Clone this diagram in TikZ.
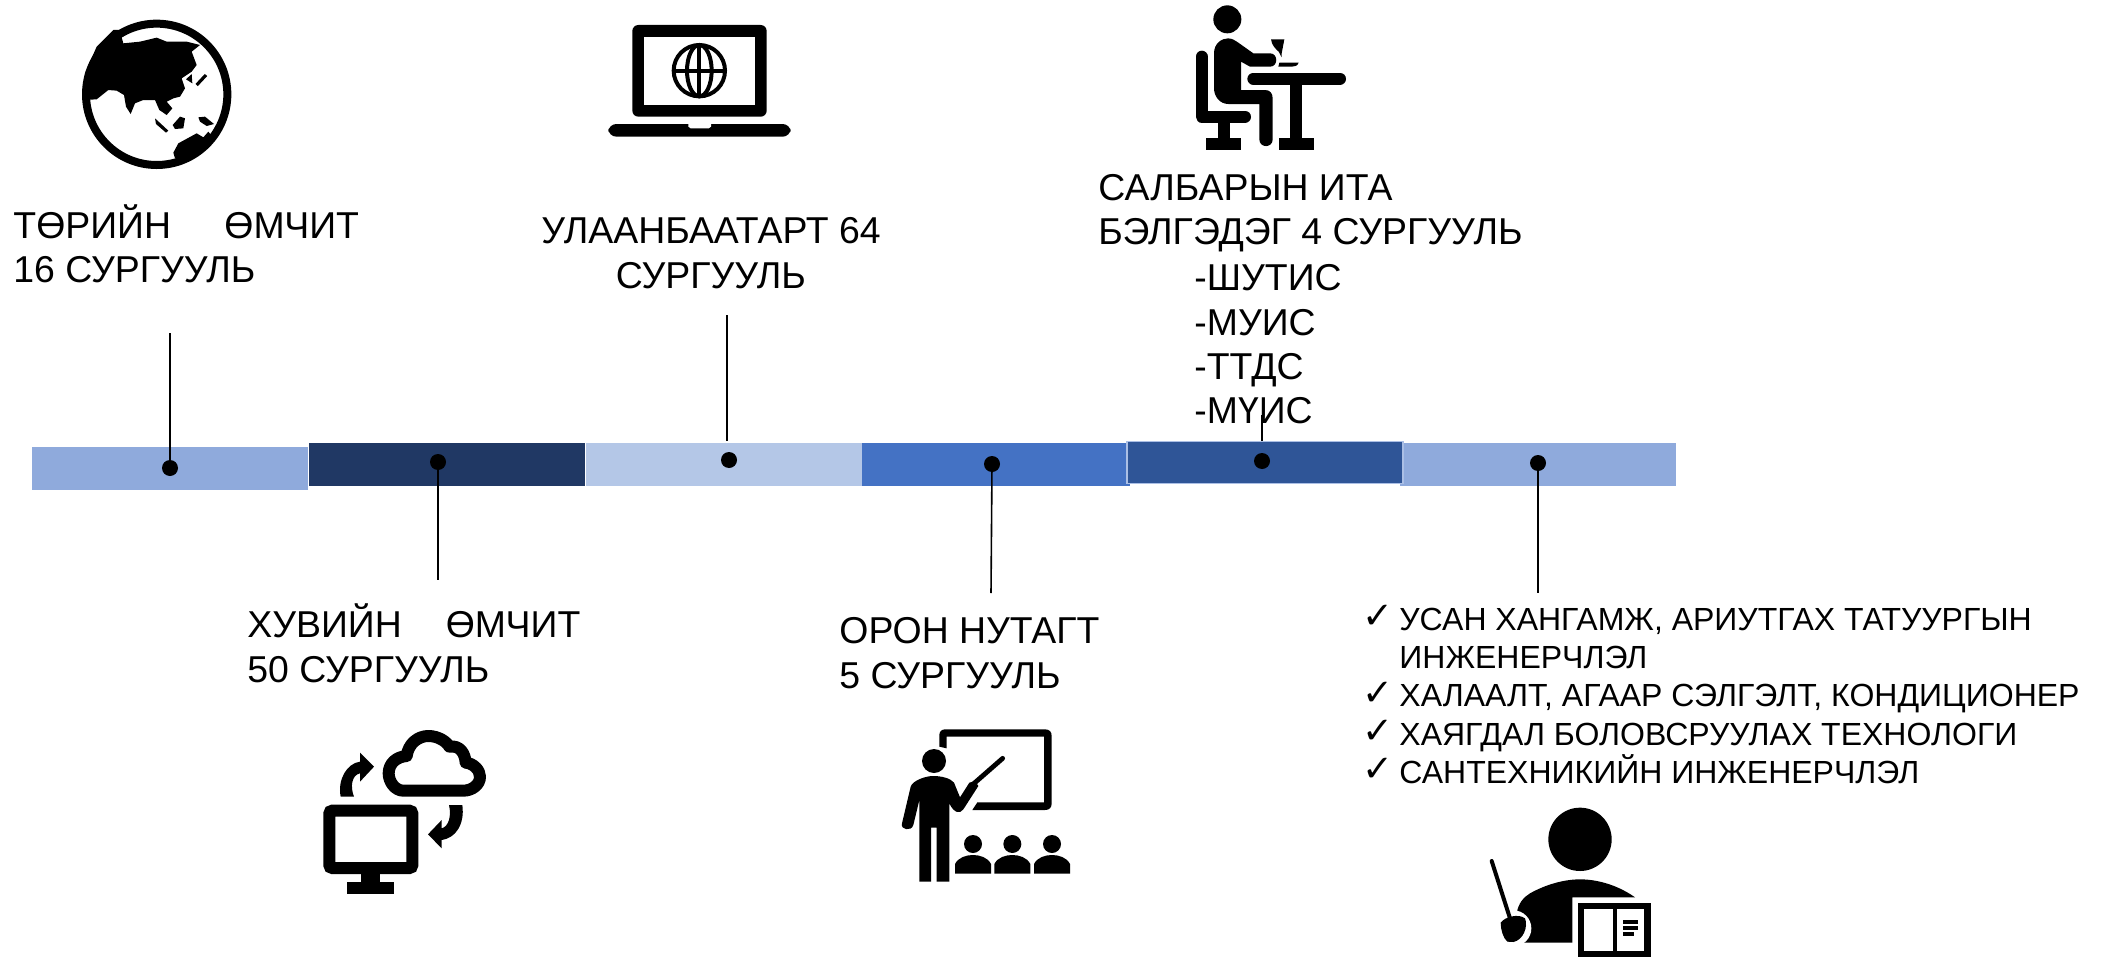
\documentclass[tikz,border=0pt]{standalone}
\usepackage{fontspec}
\setmainfont{Liberation Sans}
\newfontfamily\checkfont{DejaVu Sans}
\definecolor{barA}{HTML}{8FAADC}
\definecolor{barB}{HTML}{203864}
\definecolor{barC}{HTML}{B4C7E7}
\definecolor{barD}{HTML}{4472C4}
\definecolor{barE}{HTML}{2F5597}
\begin{document}
\begin{tikzpicture}[x=0.5pt,y=-0.5pt,
  barseg/.style={inner sep=0pt,outer sep=0pt,minimum width=138pt,minimum height=21.5pt},
  dotnode/.style={circle,fill=black,inner sep=0pt,minimum size=8pt},
  conn/.style={draw=black,line width=0.8pt},
  bigt/.style={anchor=base west,inner sep=0pt,font=\fontsize{18.7}{22}\selectfont},
  smallt/.style={anchor=base west,inner sep=0pt,font=\fontsize{16}{19}\selectfont},
  chk/.style={anchor=base west,inner sep=0pt,font=\checkfont\fontsize{18.5}{20}\selectfont},
  icon/.style={x=0.16667pt,y=-0.16667pt}]
\useasboundingbox (0,0) rectangle (2108,957);
% connector under the dark segment
\coordinate (e5) at (1262,415);
\coordinate (g5) at (1262,445);
\draw[conn] (e5) -- (g5);
% bar segments
\node[barseg,fill=barA] (s1) at (170,468.5) {};
\node[barseg,fill=barB] (s2) at (446.5,464) {};
\node[barseg,fill=barC] (s3) at (724,464.5) {};
\node[barseg,fill=barD,minimum width=134pt] (s4) at (996,464) {};
\node[barseg,fill=barA] (s6) at (1538,464.5) {};
\node[barseg,fill=barE,draw=barA!75!white,line width=0.7pt,minimum height=21pt] (s5) at (1265,462.5) {};
% dots
\node[dotnode] (d1) at (170,468) {};
\node[dotnode] (d2) at (438,462) {};
\node[dotnode] (d3) at (729,460) {};
\node[dotnode] (d4) at (992,464) {};
\node[dotnode] (d5) at (1262,461) {};
\node[dotnode] (d6) at (1538,463) {};
% free ends
\coordinate (e1) at (170,333);
\coordinate (e2) at (438,580);
\coordinate (e3) at (727,315);
\coordinate (e4) at (991,593);
\coordinate (e6) at (1538,593);
\coordinate (f3) at (727,441);
\draw[conn] (e1) -- (d1.center);
\draw[conn] (d2.center) -- (e2);
\draw[conn] (e3) -- (f3);
\draw[conn] (d4.center) -- (e4);
\draw[conn] (d6.center) -- (e6);
% texts
\node[bigt] (t1a) at (13,238.5) {ТӨРИЙН\hspace{26.7pt}ӨМЧИТ};
\node[bigt] (t1b) at (13,283) {16 СУРГУУЛЬ};
\node[bigt,anchor=base] (t3a) at (711,243.5) {УЛААНБААТАРТ 64};
\node[bigt,anchor=base] (t3b) at (711,288) {СУРГУУЛЬ};
\node[bigt] (t5a) at (1098,200.7) {САЛБАРЫН ИТА};
\node[bigt] (t5b) at (1098,245) {БЭЛГЭДЭГ 4 СУРГУУЛЬ};
\node[bigt] (t5c) at (1194,290.5) {-ШУТИС};
\node[bigt] (t5d) at (1194,335) {-МУИС};
\node[bigt] (t5e) at (1194,379) {-ТТДС};
\node[bigt] (t5f) at (1194,423.5) {-МҮИС};
\node[bigt] (t2a) at (247,637.5) {ХУВИЙН\hspace{22pt}ӨМЧИТ};
\node[bigt] (t2b) at (247,682.5) {50 СУРГУУЛЬ};
\node[bigt] (t4a) at (839,643.5) {ОРОН НУТАГТ};
\node[bigt] (t4b) at (839,688) {5 СУРГУУЛЬ};
\node[chk] (c1) at (1362,628) {✓};
\node[smallt] (l1) at (1399,630) {УСАН ХАНГАМЖ, АРИУТГАХ ТАТУУРГЫН};
\node[smallt] (l1b) at (1399,668) {ИНЖЕНЕРЧЛЭЛ};
\node[chk] (c2) at (1362,705) {✓};
\node[smallt] (l2) at (1399,706.5) {ХАЛААЛТ, АГААР СЭЛГЭЛТ, КОНДИЦИОНЕР};
\node[chk] (c3) at (1362,743) {✓};
\node[smallt] (l3) at (1399,745) {ХАЯГДАЛ БОЛОВСРУУЛАХ ТЕХНОЛОГИ};
\node[chk] (c4) at (1362,781) {✓};
\node[smallt] (l4) at (1399,783) {САНТЕХНИКИЙН ИНЖЕНЕРЧЛЭЛ};
% globe icon
\begin{scope}[shift={(0,0)},icon]
\draw[line width=4pt] (470,283) circle (212);
\fill (250,300) -- (290,298) -- (325,270) -- (350,272) -- (372,285) -- (378,320) -- (392,342) -- (405,310) -- (430,300) -- (465,300) -- (478,330) -- (500,345) -- (517,325) -- (500,305) -- (520,295) -- (540,290) -- (555,265) -- (545,235) -- (575,215) -- (590,195) -- (575,155) -- (600,135) -- (560,125) -- (500,125) -- (470,113) -- (420,125) -- (370,130) -- (365,112) -- (400,90) -- (340,90) -- (290,140) -- (255,220) -- cycle;
\draw[line width=1.6pt] (590,255) -- (618,225);
\fill (558,238) -- (575,222) -- (577,250) -- cycle;
\fill (465,355) -- (505,392) -- (498,398) -- (468,372) -- cycle;
\fill (518,375) -- (540,350) -- (555,355) -- (550,385) -- (525,387) -- cycle;
\fill (595,352) -- (615,350) -- (642,372) -- (620,378) -- (600,365) -- cycle;
\fill (520,458) -- (535,430) -- (590,400) -- (610,412) -- (625,395) -- (645,420) -- (600,455) -- (555,472) -- (525,475) -- cycle;
\end{scope}
% laptop icon
\begin{scope}[shift={(580,0)},icon]
\fill[rounded corners=3pt] (157,350) -- (157,75) -- (560,75) -- (560,350) -- cycle;
\fill[white] (192,112) rectangle (525,314);
\begin{scope}[line width=2pt]
\draw (358,212) circle (77);
\draw (358,212) ellipse (37 and 77);
\draw (358,135) -- (358,289);
\draw (281,212) -- (435,212);
\end{scope}
\fill[rounded corners=4pt] (85,372) -- (85,410) -- (632,410) -- (632,372) -- cycle;
\fill[white] (325,370) -- (325,380) -- (332,385) -- (386,385) -- (393,380) -- (393,370) -- cycle;
\end{scope}
% person at table icon
\begin{scope}[shift={(1170,0)},icon]
\fill (172,58) circle (42);
\draw[line width=6pt,line cap=round,line join=round] (95,170) -- (95,350) -- (225,350);
\fill (143,360) rectangle (180,420);
\fill (107,415) rectangle (213,450);
\fill (132,160) .. controls (132,130) and (155,115) .. (175,115) .. controls (190,115) and (200,125) .. (250,160) -- (300,160) .. controls (325,160) and (325,200) .. (300,200) -- (240,200) -- (213,185) -- (213,270) -- (285,270) .. controls (300,270) and (308,280) .. (308,295) -- (308,418) .. controls (308,445) and (268,445) .. (268,418) -- (268,312) -- (175,312) .. controls (150,312) and (132,290) .. (132,265) -- cycle;
\draw[line width=6pt,line cap=round] (250,236) -- (510,236);
\fill (360,240) rectangle (397,420);
\fill (327,415) rectangle (433,450);
\fill (303,118) -- (343,118) -- (335,160) -- (335,172) -- (326,155) .. controls (315,145) and (305,135) .. (303,118) -- cycle;
\fill (328,188) -- (386,188) .. controls (382,198) and (375,200) .. (365,200) -- (325,200) -- cycle;
\end{scope}
% monitor and cloud icon
\begin{scope}[shift={(300,710)},icon]
\draw[line width=6pt,rounded corners=1.5pt] (88,302) rectangle (337,474);
\fill (183,490) rectangle (241,520);
\fill (141,516) rectangle (283,551);
\draw[line width=6pt,line join=round] (310,242) .. controls (285,242) and (266,215) .. (266,190) .. controls (266,160) and (290,140) .. (320,138) .. controls (325,100) and (355,78) .. (385,78) .. controls (415,78) and (440,95) .. (448,110) .. controls (480,105) and (495,130) .. (497,158) .. controls (520,160) and (540,180) .. (540,200) .. controls (540,225) and (515,242) .. (490,242) -- cycle;
\fill (122,260) .. controls (112,210) and (140,160) .. (180,155) -- (180,128) -- (222,170) -- (180,215) -- (180,190) .. controls (155,195) and (150,230) .. (162,260) -- cycle;
\fill (447,285) .. controls (455,320) and (445,350) .. (425,355) -- (425,330) -- (384,373) -- (425,415) -- (425,390) .. controls (465,385) and (495,345) .. (487,285) -- cycle;
\end{scope}
% teacher icon
\begin{scope}[shift={(880,710)},icon]
\fill[even odd rule] (178,110) -- (178,75) .. controls (178,65) and (185,58) .. (195,58) -- (495,58) .. controls (508,58) and (515,65) .. (515,78) -- (515,280) .. controls (515,293) and (508,300) .. (495,300) -- (277,300) -- (292,277) -- (492,277) -- (492,80) -- (200,80) -- (200,115) -- cycle;
\fill (162,153) circle (36);
\fill (92,230) .. controls (98,212) and (135,198) .. (160,198) .. controls (185,198) and (212,205) .. (222,218) -- (240,262) -- (268,218) -- (285,213) -- (295,228) -- (250,298) .. controls (240,312) and (222,310) .. (208,280) -- (208,515) -- (170,515) -- (170,353) -- (153,353) -- (153,515) -- (118,515) -- (118,270) -- (100,345) .. controls (95,365) and (60,360) .. (66,340) -- cycle;
\draw[line width=2.4pt,line cap=round] (280,222) -- (368,145);
\foreach \cx in {279,397,516} {
  \fill (\cx,402) circle (27);
  \fill (\cx-54,491) -- (\cx-54,462) .. controls (\cx-44,442) and (\cx-20,435) .. (\cx,435) .. controls (\cx+20,435) and (\cx+44,442) .. (\cx+54,462) -- (\cx+54,491) -- cycle;
}
\end{scope}
% person with book icon
\begin{scope}[shift={(1460,790)},icon]
\fill (360,148) circle (95);
\fill (185,458) -- (170,370) .. controls (175,340) and (190,322) .. (210,310) .. controls (260,282) and (315,268) .. (360,268) .. controls (420,268) and (480,290) .. (525,322) -- (337,322) -- (337,458) -- cycle;
\fill[white] (160,415) circle (54);
\draw[line width=2pt,line cap=round] (95,213) -- (150,385);
\fill (122,398) .. controls (135,380) and (175,370) .. (195,385) .. controls (205,410) and (190,450) .. (160,456) -- (142,455) .. controls (130,445) and (122,420) .. (122,398) -- cycle;
\fill (355,340) rectangle (572,501);
\fill[white] (373,358) rectangle (458,483);
\fill[white] (470,358) rectangle (553,483);
\fill (489,390) rectangle (534,403);
\fill (489,408) rectangle (534,420);
\fill (489,426) rectangle (522,438);
\end{scope}
\end{tikzpicture}
\end{document}
